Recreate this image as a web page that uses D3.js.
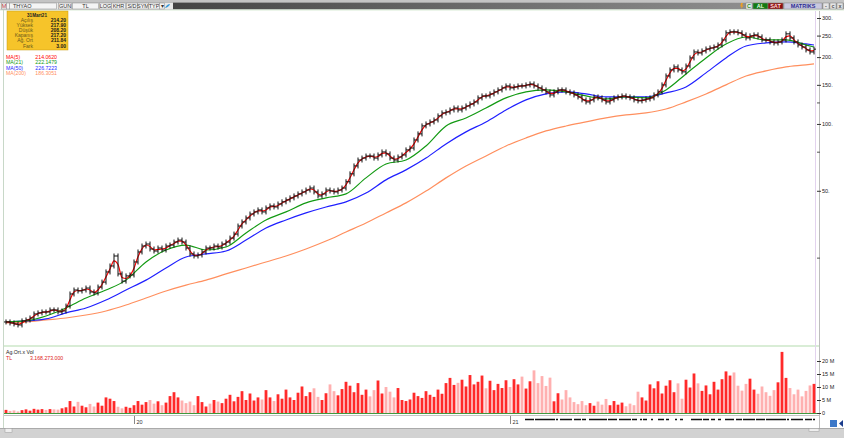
<!DOCTYPE html>
<html>
<head>
<meta charset="utf-8">
<script src="https://cdn.jsdelivr.net/npm/d3@7"></script>
<style>
  body { margin: 0; background: #fff; font-family: "Liberation Sans", Arial, sans-serif; }
  svg text { font-family: "Liberation Sans", Arial, sans-serif; }
</style>
</head>
<body>
<div id="chart"></div>
<script>
// ---- data ----
// daily closes (TL), one every few sessions
const closes = [
  12.83, 12.70, 12.57, 12.44, 12.97, 13.10, 13.37, 13.94, 14.09, 14.23, 14.23, 14.53, 14.53, 14.23, 14.38, 15.13,
  17.15, 17.87, 17.69, 17.87, 18.24, 17.51, 17.33, 18.43, 19.40, 21.55, 22.93, 25.43, 21.11, 19.60, 20.68, 20.89,
  23.90, 26.51, 28.20, 28.79, 27.34, 26.78, 27.62, 27.06, 28.20, 28.49, 29.39, 30.00, 29.39, 27.62, 25.97, 25.43,
  25.70, 26.51, 27.62, 27.62, 28.20, 27.91, 28.79, 29.39, 30.63, 31.92, 34.70, 36.20, 37.72, 39.30, 40.16, 41.00,
  40.16, 41.85, 42.73, 42.28, 43.60, 44.60, 45.50, 46.45, 47.40, 48.40, 49.40, 50.40, 51.45, 49.40, 47.40, 48.40,
  50.40, 49.90, 49.40, 50.40, 51.45, 54.90, 59.60, 64.70, 68.80, 70.20, 71.70, 71.70, 70.20, 72.50, 74.80, 73.30,
  70.20, 68.80, 71.00, 72.50, 76.40, 77.90, 84.70, 90.20, 98.00, 100.0, 102.1, 104.2, 108.7, 112.1, 113.2, 115.6,
  118.0, 115.6, 118.0, 120.5, 123.0, 125.6, 131.0, 133.7, 133.7, 136.5, 139.4, 142.3, 145.3, 148.3, 145.3, 146.8,
  148.3, 148.3, 149.9, 151.4, 148.3, 145.3, 142.3, 139.4, 135.1, 139.4, 142.3, 142.3, 139.4, 138.0, 135.1, 132.3,
  128.3, 125.6, 128.3, 132.3, 131.0, 128.3, 125.6, 128.3, 131.0, 132.3, 133.7, 132.3, 131.0, 128.3, 127.0, 128.3,
  129.6, 131.0, 135.1, 139.4, 149.9, 164.5, 175.1, 180.6, 175.1, 171.6, 182.4, 198.3, 210.9, 208.7, 213.2, 217.6,
  219.8, 222.1, 226.8, 238.9, 257.2, 259.8, 259.8, 257.2, 251.8, 244.0, 249.2, 251.8, 246.6, 238.9, 238.9, 234.0,
  231.6, 234.0, 238.9, 254.5, 244.0, 234.0, 226.8, 222.1, 215.4, 210.9, 217.2
];
// volume, millions of lots, same sessions
const volumes = [
  1.2, 0.8, 1.0, 0.6, 1.1, 1.4, 0.9, 1.6, 1.3, 1.5, 1.2, 1.5, 1.4, 1.3, 1.8, 2.2,
  4.6, 2.5, 4.3, 2.8, 2.2, 3.5, 2.5, 4.0, 2.8, 6.0, 5.5, 4.6, 2.4, 1.8, 2.4, 2.0,
  3.0, 4.6, 3.2, 4.2, 5.0, 3.6, 4.5, 3.0, 4.0, 6.5, 8.0, 6.0, 4.8, 3.8, 4.4, 3.0,
  6.5, 4.2, 2.5, 3.6, 5.0, 4.4, 3.8, 5.5, 7.0, 4.5, 6.2, 8.4, 5.0, 7.5, 4.8, 6.0,
  5.2, 8.8, 6.0, 4.6, 7.2, 5.5, 9.0, 6.0, 5.0, 7.8, 10.2, 6.5, 8.0, 9.5, 6.2, 5.0,
  7.6, 11.0, 8.4, 6.8, 9.2, 12.0, 10.5, 8.0, 11.5, 7.0, 9.0, 6.4, 8.8, 12.5, 7.5, 10.0,
  8.2, 6.0, 9.6, 5.0, 4.6, 5.2, 7.8, 6.5, 5.8, 8.4, 7.0, 6.2, 9.0, 7.4, 11.5, 13.5,
  10.8, 11.6, 12.8, 10.2, 14.6, 11.0, 12.0, 14.4, 9.5, 12.4, 8.8, 11.2, 9.6, 12.6, 10.0, 13.0,
  11.0, 14.0, 9.4, 12.2, 16.4, 11.5, 14.2, 10.4, 13.6, 4.5, 7.6, 5.2, 8.8, 6.0, 4.2, 3.4,
  4.6, 3.0, 3.8, 2.8, 4.4, 3.2, 5.4, 3.0, 4.6, 3.2, 4.0, 2.6, 3.6, 3.0, 8.2, 6.0,
  4.8, 11.0, 9.5, 12.2, 7.5, 10.5, 12.6, 8.0, 11.4, 5.5, 12.8, 9.8, 15.2, 11.4, 8.5, 10.6,
  7.2, 12.0, 9.0, 13.0, 16.0, 14.4, 15.6, 10.5, 8.6, 11.2, 13.2, 9.0, 7.4, 10.2, 8.0, 6.6,
  8.8, 11.8, 23.5, 13.5, 9.6, 7.2, 9.0, 6.4, 8.5, 10.6, 11.2
];
// moving averages read every 5th session (last value = last session)
const ma21 = [12.83, 12.97, 13.65, 14.83, 16.44, 17.87, 19.8, 23.9, 27.06, 28.49, 27.06, 27.91, 32.28, 36.95,
  40.16, 44.11, 46.45, 48.4, 57.17, 66.0, 68.8, 79.6, 98.0, 106.4, 118.0, 131.0, 139.4, 142.3, 139.4, 133.7,
  129.6, 132.3, 131.0, 142.3, 168.0, 198.3, 229.2, 246.4, 238.9, 238.9, 226.8, 222.1];
const ma50 = [12.83, 12.97, 13.24, 14.09, 14.83, 16.1, 17.87, 19.8, 22.46, 25.17, 25.97, 26.78, 30.0, 34.0,
  36.95, 39.75, 42.28, 44.6, 48.86, 56.0, 62.1, 70.2, 81.3, 92.1, 102.1, 115.6, 128.3, 136.5, 139.4, 136.5,
  132.3, 132.3, 132.3, 138.0, 146.8, 169.8, 198.3, 224.5, 231.6, 234.0, 229.2, 226.8];
const ma200 = [12.70, 12.83, 13.1, 13.37, 13.79, 14.38, 15.29, 16.44, 17.69, 18.8, 19.8, 21.11, 22.46, 23.9,
  25.43, 27.34, 29.69, 32.62, 35.82, 39.75, 44.11, 49.88, 57.17, 64.7, 71.7, 79.6, 86.5, 93.0, 97.9, 102.1,
  106.4, 109.8, 112.1, 116.8, 125.7, 136.5, 149.9, 164.5, 173.3, 180.6, 184.4, 186.3];
const maStep = 5;

// axis ticks and labels
const priceTicks = [300, 250, 200, 150, 100, 50];
const priceMinor = [125, 75, 25];
const volTicks = [0, 5, 10, 15, 20];
const yearTickIdx = [32, 126];
const yearLabels = ["20", "21"];

// info box + legend texts
const infoTitle = "31Mart21";
const infoLabels = ["Açılış", "Yüksek", "Düşük", "Kapanış", "Ağ. Ort", "Fark"];
const infoValues = ["214.20", "217.90", "208.20", "217.20", "211.84", "3.00"];
const maNames = ["MA(5)", "MA(21)", "MA(50)", "MA(200)"];
const maLegendValues = ["214.0620", "222.1479", "226.7223", "186.3051"];
const maColors = ["#ff0000", "#139a13", "#1f1fff", "#ff8f5e"];

// ---- layout ----
const W = 844, H = 438;
const plot = { left: 4, right: 819, top: 11, bottom: 345 };
const vol = { top: 347, bottom: 413 };
const n = closes.length;

const svg = d3.select("#chart").append("svg")
  .attr("width", W).attr("height", H)
  .style("display", "block");

const x = d3.scaleLinear().domain([0, n - 1]).range([6, 814]);
const y = d3.scaleLog().domain([10, 300]).range([346, 18]);
const yv = d3.scaleLinear().domain([0, 25]).range([vol.bottom, vol.bottom - 65]);

// ---- frame ----
const defs = svg.append("defs");
const grad = defs.append("linearGradient").attr("id", "tb");
grad.append("stop").attr("offset", "0%").attr("stop-color", "#2e2e2e");
grad.append("stop").attr("offset", "100%").attr("stop-color", "#9a9a9a");

svg.append("rect").attr("x", 0).attr("y", 0).attr("width", W).attr("height", 2.5).attr("fill", "#c4c4c4");
svg.append("rect").attr("x", 0).attr("y", 2.5).attr("width", W).attr("height", 7).attr("fill", "url(#tb)");
svg.append("line").attr("x1", 0).attr("x2", W).attr("y1", 10).attr("y2", 10).attr("stroke", "#d9ecd6");

// left toolbar buttons
svg.append("rect").attr("x", 0).attr("y", 2.5).attr("width", 173).attr("height", 7).attr("fill", "#e9e9e9");
const tbItems = [["M", 1, 5], ["", 6, 3], ["THYAO", 9, 47], ["GUN", 58, 13], ["TL", 72, 26], ["LOG", 99, 12],
  ["KHR", 111, 14], ["S/D", 126, 11], ["SYM", 137, 11], ["TYP", 148, 11], ["▾", 159, 5]];
tbItems.forEach(d => {
  svg.append("rect").attr("x", d[1] + 0.5).attr("y", 3).attr("width", d[2]).attr("height", 6)
    .attr("fill", "#f4f4f4").attr("stroke", "#9a9a9a").attr("stroke-width", 0.6);
  svg.append("text").attr("x", d[1] + (d[0] === "THYAO" ? 4 : d[2] / 2 + 0.5)).attr("y", 8.3)
    .attr("text-anchor", d[0] === "THYAO" ? "start" : "middle")
    .attr("font-size", 5.5).attr("fill", d[0] === "M" ? "#b03030" : "#333").text(d[0]);
});
svg.append("path").attr("d", "M165,8 q2,-4 5,-4 q-1,3 -5,4z").attr("fill", "#3a9ad9");

// right toolbar buttons
svg.append("path").attr("d", "M741,3 l2,0 l-1,2.5 l1.5,0 l-2.5,3.5 l0.6,-2.6 l-1.3,0z").attr("fill", "#f0a020");
const rbItems = [["C", 746, 6, "#e8f0e8", "#2a8a2a"], ["AL", 753, 15, "#137a13", "#e8ffe8"],
  ["SAT", 768, 15, "#8c1010", "#ffdede"], ["MATRIKS", 784, 38, "#c9c9df", "#2b2b8f"],
  ["-", 823, 6, "#e4e4e4", "#555"], ["c", 830, 6, "#e4e4e4", "#555"], ["x", 837, 6, "#e4e4e4", "#555"]];
rbItems.forEach(d => {
  svg.append("rect").attr("x", d[1]).attr("y", 3).attr("width", d[2]).attr("height", 6)
    .attr("fill", d[3]).attr("stroke", "#8a8a8a").attr("stroke-width", 0.5);
  svg.append("text").attr("x", d[1] + d[2] / 2).attr("y", 8.3).attr("text-anchor", "middle")
    .attr("font-size", 5.5).attr("font-weight", "bold").attr("fill", d[4]).text(d[0]);
});

// panel borders
svg.append("line").attr("x1", 3.5).attr("x2", 3.5).attr("y1", 10).attr("y2", 428).attr("stroke", "#c8d8c8");
svg.append("line").attr("x1", plot.left).attr("x2", 819).attr("y1", 346).attr("y2", 346)
  .attr("stroke", "#b4dcae").attr("stroke-width", 1.2);
svg.append("line").attr("x1", 815.5).attr("x2", 815.5).attr("y1", 11).attr("y2", 414).attr("stroke", "#e3d3ee");
svg.append("line").attr("x1", 819.5).attr("x2", 819.5).attr("y1", 11).attr("y2", 428).attr("stroke", "#bdbdbd");

// ---- price panel ----
const price = svg.append("g");

// moving averages (drawn under the bars)
const maIdx = k => Math.min(k * maStep, n - 1);
const maLine = d3.line().x((d, k) => x(maIdx(k))).y(d => y(d)).curve(d3.curveMonotoneX);
[ma200, ma50, ma21].forEach((arr, j) => {
  price.append("path").datum(arr)
    .attr("fill", "none").attr("stroke", maColors[3 - j]).attr("stroke-width", 1.2)
    .attr("d", maLine);
});

// MA(5): mean of the last two readings (about five sessions)
const ma5 = closes.map((c, i) => i > 0 ? (c + closes[i - 1]) / 2 : c);
price.append("path").datum(ma5)
  .attr("fill", "none").attr("stroke", maColors[0]).attr("stroke-width", 1.2)
  .attr("d", d3.line().x((d, i) => x(i)).y(d => y(d)).curve(d3.curveMonotoneX));

// OHLC-style bars: open = previous close
const bars = price.append("g").attr("stroke", "#111").attr("stroke-width", 1);
closes.forEach((c, i) => {
  const o = i > 0 ? closes[i - 1] : c;
  const xi = x(i);
  const top = y(Math.max(o, c)) - 2.5, bot = y(Math.min(o, c)) + 2.5;
  bars.append("line").attr("x1", xi).attr("x2", xi).attr("y1", top).attr("y2", bot);
  bars.append("line").attr("x1", xi - 2).attr("x2", xi).attr("y1", y(o)).attr("y2", y(o));
  bars.append("line").attr("x1", xi).attr("x2", xi + 2).attr("y1", y(c)).attr("y2", y(c));
});

// price axis on the right
const yAxis = svg.append("g").attr("transform", "translate(817,0)")
  .call(d3.axisRight(y).tickValues(priceTicks).tickFormat(d => d + ".").tickSize(4).tickPadding(1));
yAxis.select(".domain").remove();
yAxis.selectAll("line").attr("stroke", "#333");
yAxis.selectAll("text").attr("font-size", 5.5).attr("fill", "#222");
const yMinor = svg.append("g").attr("transform", "translate(817,0)")
  .call(d3.axisRight(y).tickValues(priceMinor).tickFormat("").tickSize(3));
yMinor.select(".domain").remove();
yMinor.selectAll("line").attr("stroke", "#555");

// info box
const info = svg.append("g");
info.append("rect").attr("x", 7).attr("y", 11).attr("width", 61).attr("height", 39)
  .attr("fill", "#f6c42a").attr("stroke", "#c89a10").attr("stroke-width", 0.5);
info.append("text").attr("x", 37).attr("y", 16.5).attr("text-anchor", "middle")
  .attr("font-size", 4.6).attr("font-weight", "bold").attr("fill", "#222").text(infoTitle);
infoLabels.forEach((t, i) => {
  info.append("text").attr("x", 33).attr("y", 21.5 + i * 5.2).attr("text-anchor", "end")
    .attr("font-size", 5).attr("fill", "#6d5a1a").text(t);
  info.append("text").attr("x", 66).attr("y", 21.5 + i * 5.2).attr("text-anchor", "end")
    .attr("font-size", 5).attr("font-weight", "bold").attr("fill", "#1a1a1a").text(infoValues[i]);
});

// MA legend
maNames.forEach((t, i) => {
  svg.append("text").attr("x", 6).attr("y", 59 + i * 5.4)
    .attr("font-size", 5.2).attr("fill", maColors[i]).text(t);
  svg.append("text").attr("x", 57).attr("y", 59 + i * 5.4).attr("text-anchor", "end")
    .attr("font-size", 5.2).attr("fill", maColors[i]).text(maLegendValues[i]);
});

// ---- volume panel ----
const vg = svg.append("g");
volumes.forEach((v, i) => {
  const up = i === 0 || closes[i] > closes[i - 1];
  vg.append("rect")
    .attr("x", x(i) - 1.4).attr("width", 2.8)
    .attr("y", yv(v)).attr("height", yv(0) - yv(v))
    .attr("fill", up ? "#ff2a2a" : "#ffb0b0");
});
svg.append("line").attr("x1", plot.left).attr("x2", 817).attr("y1", vol.bottom + 0.5).attr("y2", vol.bottom + 0.5)
  .attr("stroke", "#3f9a3f").attr("stroke-width", 1.2);

const vAxis = svg.append("g").attr("transform", "translate(817,0)")
  .call(d3.axisRight(yv).tickValues(volTicks).tickFormat(d => d === 0 ? "0" : d + " M").tickSize(4).tickPadding(1));
vAxis.select(".domain").remove();
vAxis.selectAll("line").attr("stroke", "#333");
vAxis.selectAll("text").attr("font-size", 5.5).attr("fill", "#222");

svg.append("text").attr("x", 6).attr("y", 354).attr("font-size", 5.2).attr("fill", "#222").text("Ag.Ort.x Vol");
svg.append("text").attr("x", 6).attr("y", 359.5).attr("font-size", 5.2).attr("fill", "#e02020").text("TL");
svg.append("text").attr("x", 30).attr("y", 359.5).attr("font-size", 5.2).attr("fill", "#e02020").text("3.168.273.000");

// ---- time axis ----
svg.append("line").attr("x1", plot.left).attr("x2", 819).attr("y1", 415.5).attr("y2", 415.5).attr("stroke", "#c4c4c4");
const xAxis = svg.append("g").attr("transform", "translate(0,416)")
  .call(d3.axisBottom(x).tickValues(yearTickIdx).tickFormat((d, i) => yearLabels[i]).tickSize(8).tickPadding(0));
xAxis.select(".domain").remove();
xAxis.selectAll("line").attr("stroke", "#888");
xAxis.selectAll("text").attr("font-size", 5.5).attr("fill", "#333")
  .attr("text-anchor", "start").attr("x", 2).attr("y", 4).attr("dy", "0.71em");

// event marks along the time axis
svg.append("line").attr("x1", 525).attr("x2", 815).attr("y1", 419.5).attr("y2", 419.5)
  .attr("stroke", "#111").attr("stroke-width", 1.3)
  .attr("stroke-dasharray", "9,1,20,1,2,2,12,2,7,1,4,3,18,1,9,2,12,1,5,3,2,1,4,4,2,5,6,2,3,6,2,3,3,8,11,1,6,2,4,3,3,4,9,2,6,1,12,1");

// bottom bar
svg.append("rect").attr("x", 0).attr("y", 428).attr("width", W).attr("height", 10).attr("fill", "#d2d2d2");
svg.append("line").attr("x1", 0).attr("x2", W).attr("y1", 428.5).attr("y2", 428.5).attr("stroke", "#aaa");
svg.append("rect").attr("x", 5).attr("y", 428.5).attr("width", 7).attr("height", 4).attr("fill", "#eee").attr("stroke", "#999").attr("stroke-width", 0.5);
svg.append("rect").attr("x", 809).attr("y", 428.5).attr("width", 10).attr("height", 3).attr("fill", "#eee").attr("stroke", "#999").attr("stroke-width", 0.5);
svg.append("rect").attr("x", 830).attr("y", 420).attr("width", 7).attr("height", 7).attr("fill", "#3c78c8");
svg.append("path").attr("d", "M843,420 l-4,3.5 l4,3.5z").attr("fill", "#1a3c8c");
</script>
</body>
</html>
